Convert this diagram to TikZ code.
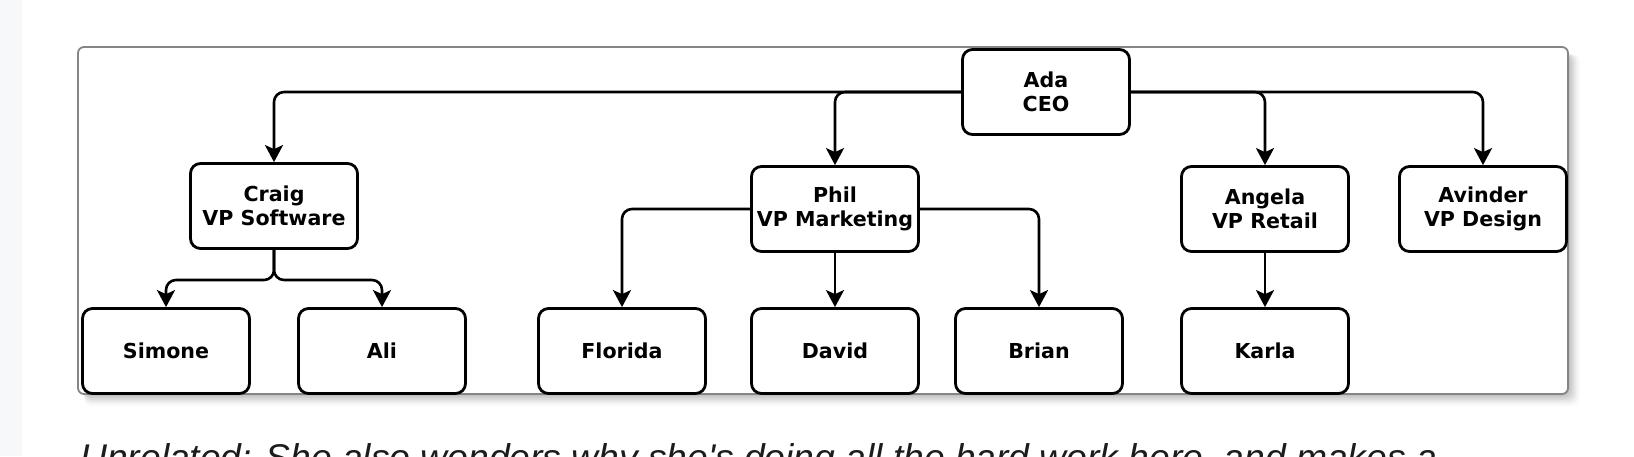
\documentclass[tikz,border=0pt]{standalone}
\usepackage{fontspec}
\newfontfamily\boxfont{DejaVu Sans}
\newfontfamily\captfont{Liberation Sans}
\usetikzlibrary{arrows.meta}
\definecolor{stripgray}{HTML}{F6F8FA}
\definecolor{framegray}{HTML}{858585}
\definecolor{textdark}{HTML}{1C1C1C}
\tikzset{
  person/.style={draw=black, line width=1.4pt, rounded corners=5pt, fill=white,
    minimum width=83.5pt, minimum height=42.5pt, inner sep=0pt, align=center,
    font=\boxfont\bfseries\fontsize{10.3}{12}\selectfont},
  link/.style={line width=1.3pt, rounded corners=5pt,
    -{Stealth[length=8.5pt, width=9pt, inset=2pt]}}
}
\begin{document}
\begin{tikzpicture}[x=0.5pt,y=-0.5pt]
\useasboundingbox (0,0) rectangle (1634,456);
\fill[white] (0,0) rectangle (1634,456);
\fill[stripgray] (0,0) rectangle (22,456);
% frame shadow
\foreach \o/\a in {2/0.06,4/0.06,6/0.05,8/0.04,10/0.03,12/0.02} {
  \fill[black, opacity=\a, rounded corners=4pt] (84,54) rectangle (1568+\o,394+\o);
}
\draw[framegray, line width=0.9pt, fill=white, rounded corners=3pt] (78,47) rectangle (1568,394);
% nodes
\node[person] (ada) at (1046,92) {Ada\\CEO};
\node[person] (craig) at (274,206) {Craig\\VP Software};
\node[person] (phil) at (835,209) {Phil\\VP Marketing};
\node[person] (angela) at (1265,209) {Angela\\VP Retail};
\node[person] (avinder) at (1483,209) {Avinder\\VP Design};
\node[person] (simone) at (166,351) {Simone};
\node[person] (ali) at (382,351) {Ali};
\node[person] (florida) at (622,351) {Florida};
\node[person] (david) at (835,351) {David};
\node[person] (brian) at (1039,351) {Brian};
\node[person] (karla) at (1265,351) {Karla};
% connectors
\draw[link] (ada.west) -| (phil.north);
\draw[link] (ada.west) -| (craig.north);
\draw[link] (ada.east) -| (angela.north);
\draw[link] (ada.east) -| (avinder.north);
\coordinate (cfork) at (274,280);
\draw[link] (craig.south) -- (cfork) -| (simone.north);
\draw[link] (craig.south) -- (cfork) -| (ali.north);
\draw[link] (phil.west) -| (florida.north);
\draw[link] (phil.south) -- (david.north);
\draw[link] (phil.east) -| (brian.north);
\draw[link] (angela.south) -- (karla.north);
% caption line (cut off as in the reference)
\begin{scope}
\clip (0,0) rectangle (1634,456);
\node[anchor=base west, inner sep=0pt, text=textdark, font=\captfont\itshape\fontsize{18.6}{22}\selectfont] (capt) at (80,470) {Unrelated: She also wonders why she's doing all the hard work here, and makes a};
\end{scope}
\end{tikzpicture}
\end{document}
